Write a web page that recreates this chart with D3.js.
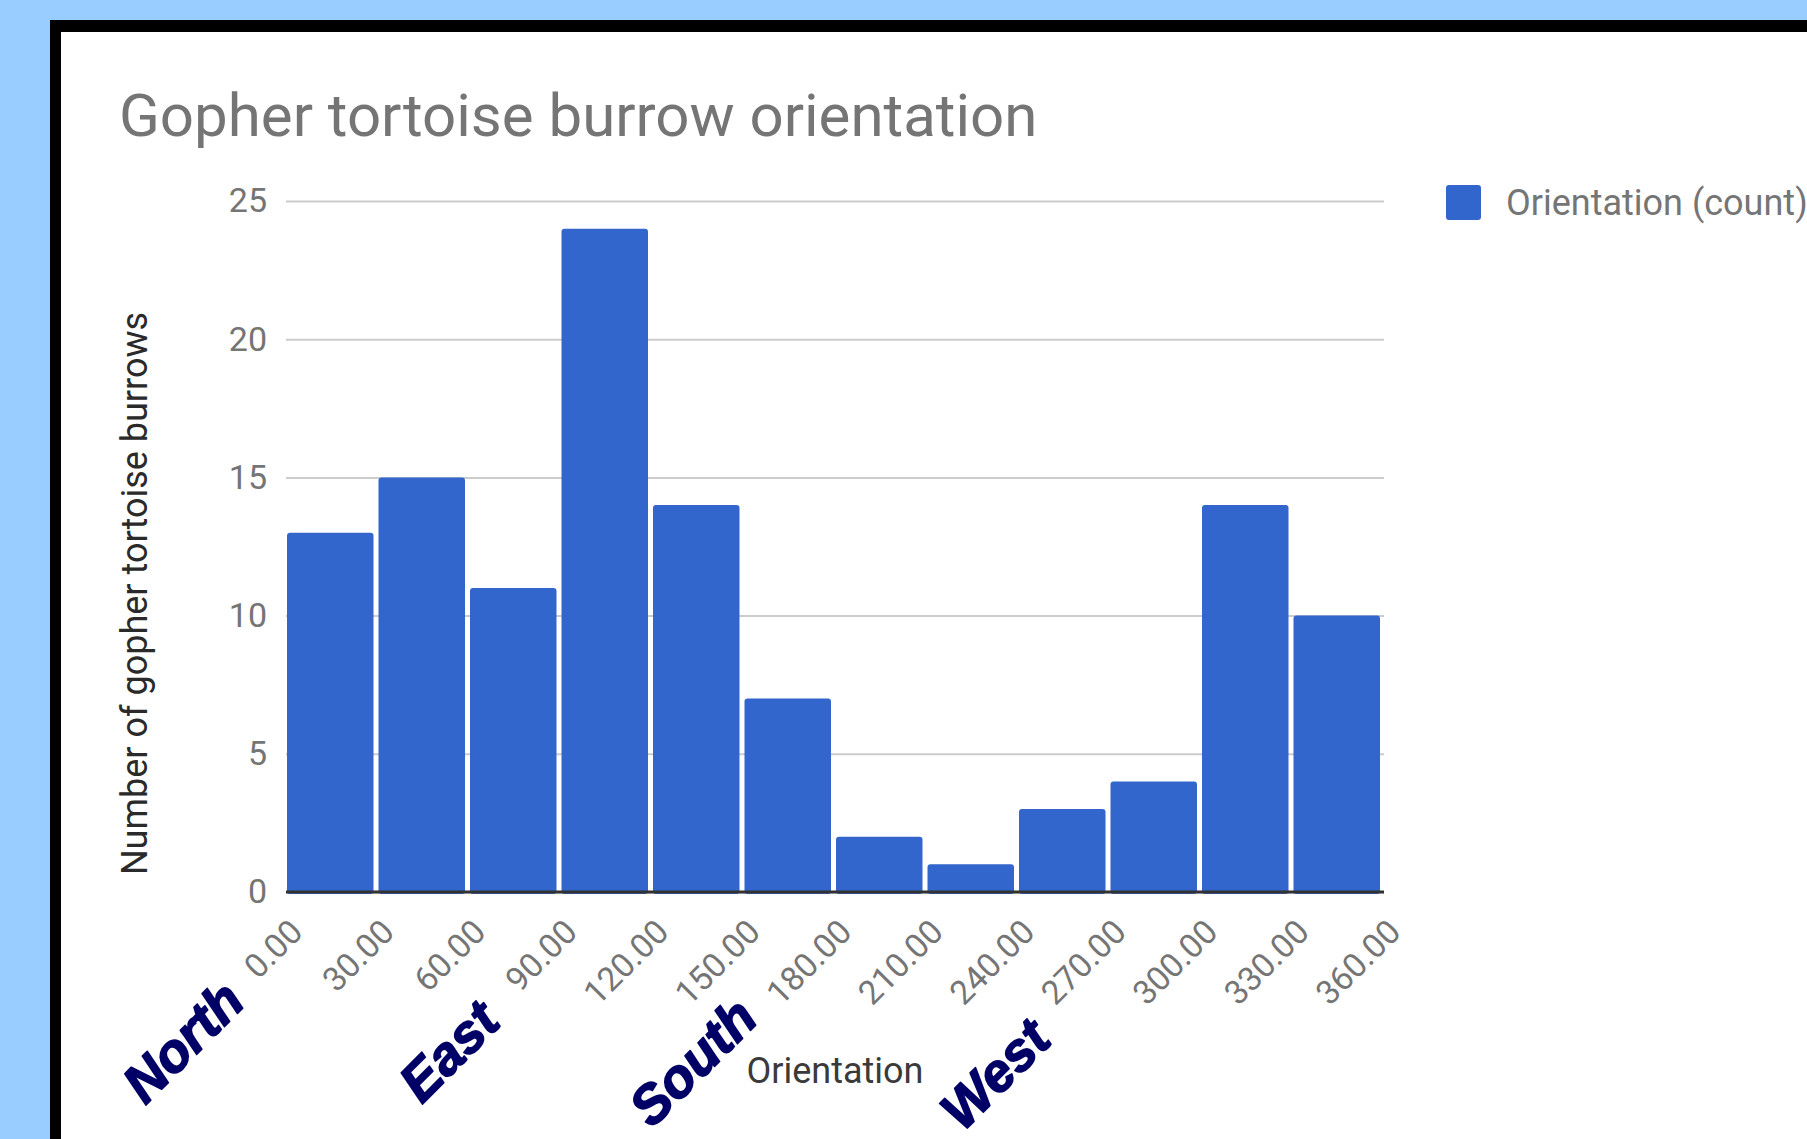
<!DOCTYPE html>
<html>
<head>
<meta charset="utf-8">
<script src="https://cdn.jsdelivr.net/npm/d3@7"></script>
<style>
html,body{margin:0;padding:0;background:#99ccff;overflow:hidden}
svg{display:block}
</style>
</head>
<body>
<svg id="chart" width="1807" height="1139"></svg>
<script>
// ---- data ----
const binStarts = [0, 30, 60, 90, 120, 150, 180, 210, 240, 270, 300, 330];
const binWidth = 30;
const counts = [13, 15, 11, 24, 14, 7, 2, 1, 3, 4, 14, 10];
const xTickValues = [0, 30, 60, 90, 120, 150, 180, 210, 240, 270, 300, 330, 360];
const yTickValues = [0, 5, 10, 15, 20, 25];
const directionNames = ["North", "East", "South", "West"];
const directionAngles = [0, 90, 180, 270];
const titleText = "Gopher tortoise burrow orientation";
const yAxisTitle = "Number of gopher tortoise burrows";
const xAxisTitle = "Orientation";
const seriesName = "Orientation (count)";

// ---- layout ----
const W = 1807, H = 1139;
const plot = {left: 286, right: 1384, top: 201, bottom: 892};
const dirOffsets = [[-39, 112], [-58, 132], [-75, 129], [-56, 150]];
const barColor = "#3366cc";
const grey = "#757575";
const font = "Roboto, 'Noto Sans', sans-serif";

const svg = d3.select("#chart");

// background frame
svg.append("rect").attr("x", 0).attr("y", 0).attr("width", W).attr("height", H).attr("fill", "#99ccff");
svg.append("rect").attr("x", 50).attr("y", 20).attr("width", W).attr("height", H).attr("fill", "#000");
svg.append("rect").attr("x", 61).attr("y", 32).attr("width", W).attr("height", H).attr("fill", "#fff");

const x = d3.scaleLinear().domain([0, 360]).range([plot.left, plot.right]);
const y = d3.scaleLinear().domain([0, 25]).range([plot.bottom, plot.top]);

// title
svg.append("text")
  .attr("x", 119).attr("y", 136)
  .attr("font-family", font).attr("font-size", 60)
  .attr("fill", grey)
  .text(titleText);

// y axis with gridlines
const yAxis = svg.append("g")
  .attr("transform", `translate(${plot.left},0)`)
  .call(d3.axisLeft(y).tickValues(yTickValues).tickSize(-(plot.right - plot.left)).tickPadding(19).tickFormat(d3.format("d")));
yAxis.select(".domain").remove();
yAxis.selectAll(".tick line").attr("stroke", "#cccccc").attr("stroke-width", 2);
yAxis.selectAll(".tick text")
  .attr("font-family", font).attr("font-size", 34).attr("fill", grey);

// bars
const bins = binStarts.map((s, i) => ({lo: s, hi: s + binWidth, v: counts[i]}));
svg.append("g").selectAll("rect").data(bins).join("rect")
  .attr("x", d => x(d.lo) + 1)
  .attr("width", d => x(d.hi) - x(d.lo) - 5)
  .attr("y", d => y(d.v))
  .attr("height", d => y(0) - y(d.v) + 2)
  .attr("rx", 3)
  .attr("fill", barColor);

// baseline
svg.append("line")
  .attr("x1", plot.left).attr("x2", plot.right)
  .attr("y1", y(0)).attr("y2", y(0))
  .attr("stroke", "#333").attr("stroke-width", 3);

// x axis labels (rotated)
const xAxis = svg.append("g")
  .attr("transform", `translate(0,${plot.bottom})`)
  .call(d3.axisBottom(x).tickValues(xTickValues).tickSize(0).tickFormat(d3.format(".2f")));
xAxis.select(".domain").remove();
xAxis.selectAll(".tick text")
  .attr("font-family", font).attr("font-size", 33.5).attr("fill", grey)
  .attr("text-anchor", "end")
  .attr("dy", null).attr("y", 0)
  .attr("transform", "translate(18,42) rotate(-45)");

// axis titles
svg.append("text")
  .attr("transform", `translate(147,${(plot.top + plot.bottom) / 2 + 47}) rotate(-90)`)
  .attr("text-anchor", "middle")
  .attr("font-family", font).attr("font-size", 36).attr("fill", "#2a2a2a")
  .text(yAxisTitle);

svg.append("text")
  .attr("x", x(180)).attr("y", 1083)
  .attr("text-anchor", "middle")
  .attr("font-family", font).attr("font-size", 36).attr("fill", "#3a3a3a")
  .text(xAxisTitle);

// legend
svg.append("rect").attr("x", 1446).attr("y", 185).attr("width", 35).attr("height", 35).attr("rx", 3).attr("fill", barColor);
svg.append("text").attr("x", 1506).attr("y", 215)
  .attr("font-family", font).attr("font-size", 36).attr("fill", grey)
  .text(seriesName);

// compass direction annotations
svg.append("g").selectAll("text").data(directionNames).join("text")
  .attr("transform", (d, i) => `translate(${x(directionAngles[i]) + dirOffsets[i][0]},${plot.bottom + dirOffsets[i][1]}) rotate(-45)`)
  .attr("text-anchor", "end")
  .attr("font-family", "'Liberation Sans', Arial, sans-serif")
  .attr("font-weight", "bold").attr("font-style", "italic")
  .attr("font-size", 54).attr("fill", "#000066")
  .attr("stroke", "#000066").attr("stroke-width", 1.6).attr("stroke-linejoin", "round")
  .text(d => d);
</script>
</body>
</html>
